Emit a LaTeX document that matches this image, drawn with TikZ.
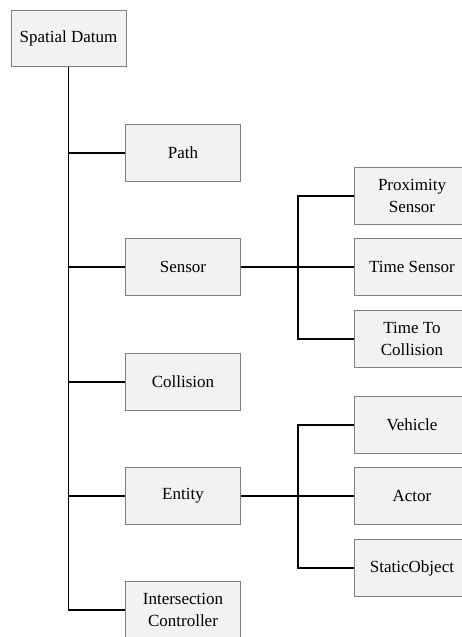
\documentclass[tikz,border=0pt]{standalone}
\usepackage{fontspec}
\setmainfont{Liberation Serif}
\begin{document}
\begin{tikzpicture}[x=1pt,y=-1pt,
  box/.style={draw=black!50, line width=1pt, fill=black!5, minimum width=115pt, minimum height=57pt, inner sep=2pt, align=center, font=\fontsize{17}{21.5}\selectfont},
  conn/.style={draw=black, line width=1.3pt}]
\useasboundingbox (0,0) rectangle (461,637);
\node[box, minimum height=56pt] (sd) at (68.5,38) {Spatial Datum};
\node[box] (path) at (183,153) {Path};
\node[box] (sensor) at (183,267) {Sensor};
\node[box] (coll) at (183,382) {Collision};
\node[box] (entity) at (183,496) {Entity};
\node[box] (ic) at (183,610) {Intersection\\Controller};
\node[box] (ps) at (412,196) {Proximity\\Sensor};
\node[box] (ts) at (412,267) {Time Sensor};
\node[box] (ttc) at (412,339) {Time To\\Collision};
\node[box] (veh) at (412,425) {Vehicle};
\node[box] (actor) at (412,496) {Actor};
\node[box] (so) at (412,568) {StaticObject};
\coordinate (j1) at (298,267);
\coordinate (j2) at (298,496);
% trunk
\draw[conn] (sd.south) -- (sd.south |- ic.west) -- (ic.west);
\draw[conn] (sd.south |- path.west) -- (path.west);
\draw[conn] (sd.south |- sensor.west) -- (sensor.west);
\draw[conn] (sd.south |- coll.west) -- (coll.west);
\draw[conn] (sd.south |- entity.west) -- (entity.west);
% sensor group
\draw[conn] (sensor.east) -- (ts.west);
\draw[conn] (ps.west) -- (j1 |- ps.west) -- (j1 |- ttc.west) -- (ttc.west);
% entity group
\draw[conn] (entity.east) -- (actor.west);
\draw[conn] (veh.west) -- (j2 |- veh.west) -- (j2 |- so.west) -- (so.west);
\end{tikzpicture}
\end{document}
